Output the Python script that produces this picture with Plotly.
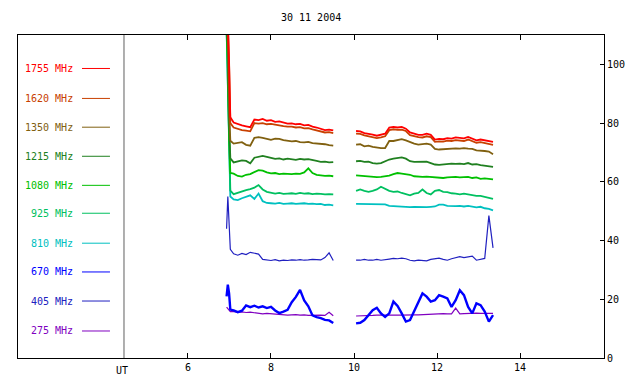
import plotly.graph_objects as go

# ---- data ----
T1 = [6.93, 6.96, 6.99, 7.02, 7.1, 7.2, 7.3, 7.4, 7.5, 7.6, 7.7, 7.8, 7.9, 8.0, 8.1, 8.2,
      8.3, 8.4, 8.5, 8.6, 8.7, 8.8, 8.9, 9.0, 9.1, 9.2, 9.3, 9.4, 9.5]
T2 = [10.05, 10.15, 10.25, 10.35, 10.45, 10.55, 10.65, 10.75, 10.85, 10.95, 11.05, 11.15,
      11.25, 11.35, 11.45, 11.55, 11.65, 11.75, 11.85, 11.95, 12.05, 12.15, 12.25, 12.35,
      12.45, 12.55, 12.65, 12.75, 12.85, 12.95, 13.05, 13.15, 13.25, 13.35]

freqs = ["1755 MHz", "1620 MHz", "1350 MHz", "1215 MHz", "1080 MHz",
         "925 MHz", "810 MHz", "670 MHz", "405 MHz", "275 MHz"]
colors = ["#ff0000", "#c84000", "#806010", "#208020", "#00c000",
          "#00c060", "#00c0c0", "#0000ff", "#2020c0", "#8000c0"]
legend_y = [98.6, 88.4, 78.6, 68.7, 58.8, 49.3, 39.1, 29.3, 19.4, 9.2]

s1755_a = [112, 115, 100, 82, 80.2, 79.6, 79.2, 78.9, 78.6, 81.2, 81.0, 81.4, 80.8, 81.0, 80.4, 80.6,
           80.1, 79.8, 79.9, 79.6, 79.7, 79.2, 79.4, 78.8, 78.5, 78.0, 77.6, 77.8, 77.5]
s1755_b = [77.3, 77.2, 76.6, 76.4, 76.1, 75.7, 76.0, 76.4, 78.5, 78.7, 78.5, 78.7, 78.1, 76.8, 76.4,
           76.0, 76.0, 76.4, 76.0, 74.4, 74.6, 74.5, 74.9, 74.7, 75.1, 74.9, 74.8, 75.3, 74.7, 74.1,
           74.4, 74.1, 73.9, 73.6]
s1620_a = [112, 114, 101, 80, 78.5, 78.0, 77.6, 77.4, 77.2, 80.0, 79.8, 80.0, 79.6, 79.7, 79.4, 79.3,
           79.0, 78.8, 78.8, 78.5, 78.6, 78.2, 78.3, 77.9, 77.6, 77.1, 76.8, 76.9, 76.6]
s1620_b = [76.4, 76.3, 75.8, 75.5, 75.3, 74.9, 75.1, 75.5, 77.6, 77.9, 77.7, 77.8, 77.3, 75.9, 75.6,
           75.2, 75.1, 75.5, 75.2, 73.6, 73.8, 73.7, 74.0, 73.9, 74.2, 74.0, 73.9, 74.4, 73.9, 73.3,
           73.5, 73.2, 73.0, 72.6]
s1350_a = [112, 110, 85, 74, 73.0, 73.2, 73.5, 72.6, 72.3, 75.0, 75.2, 75.0, 74.6, 74.3, 74.7, 74.6,
           74.2, 74.0, 73.8, 73.9, 73.5, 73.4, 73.6, 73.2, 73.1, 72.9, 72.8, 72.5, 72.3]
s1350_b = [72.7, 72.8, 72.1, 72.3, 71.9, 71.6, 71.5, 71.5, 73.9, 73.9, 74.1, 74.5, 74.1, 73.5, 73.0,
           72.7, 72.8, 73.0, 72.7, 71.2, 71.0, 71.1, 71.3, 71.2, 71.4, 71.3, 71.5, 71.3, 71.2, 70.7,
           70.7, 70.5, 70.3, 69.4]
s1215_a = [112, 105, 80, 68, 66.6, 67.0, 67.3, 67.1, 66.3, 68.2, 68.6, 68.8, 68.5, 68.2, 67.8, 68.0,
           67.6, 67.9, 67.7, 67.5, 67.8, 67.6, 67.7, 67.5, 67.1, 66.8, 66.9, 66.6, 66.7]
s1215_b = [67.0, 67.1, 66.8, 66.9, 66.4, 66.2, 66.4, 67.0, 67.6, 67.9, 68.0, 68.3, 67.9, 67.0, 66.8,
           66.8, 66.7, 66.9, 66.4, 65.9, 65.8, 66.0, 66.0, 66.2, 66.1, 66.2, 66.0, 66.4, 65.9, 66.0,
           65.7, 65.5, 65.3, 65.1]
s1080_a = [112, 100, 75, 63, 62.8, 62.0, 61.8, 62.4, 62.6, 63.4, 64.0, 63.8, 63.2, 62.9, 63.0, 62.6,
           62.8, 62.7, 62.6, 62.8, 62.7, 63.2, 64.6, 63.0, 62.4, 62.2, 62.0, 62.1, 61.9]
s1080_b = [62.2, 62.1, 61.9, 61.7, 61.8, 61.6, 61.7, 61.9, 62.1, 62.6, 63.0, 62.8, 62.6, 62.4, 61.9,
           61.7, 61.7, 61.8, 61.7, 61.7, 61.6, 61.3, 61.5, 61.6, 61.7, 61.5, 61.6, 61.7, 61.3, 61.5,
           61.0, 61.2, 61.0, 60.8]
s925_a = [112, 95, 70, 57, 55.8, 56.3, 56.8, 57.2, 57.5, 58.0, 58.9, 57.4, 56.6, 56.4, 56.0, 56.2,
          55.9, 56.0, 56.1, 55.9, 56.2, 56.0, 56.1, 55.8, 56.0, 55.9, 55.7, 55.8, 55.7]
s925_b = [56.9, 57.4, 56.9, 56.6, 56.9, 57.4, 58.3, 57.7, 56.9, 56.6, 56.7, 56.2, 55.8, 55.4, 56.0,
          56.2, 57.4, 56.2, 55.7, 56.9, 57.2, 56.6, 56.5, 56.1, 56.0, 55.7, 56.0, 55.7, 55.4, 55.2,
          55.2, 54.9, 54.5, 54.2]
s810_a = [112, 90, 65, 55, 54.0, 53.8, 54.4, 54.9, 55.4, 54.2, 56.0, 53.4, 52.8, 52.7, 52.6, 52.8,
          52.5, 52.6, 52.7, 52.5, 52.6, 52.7, 52.5, 52.6, 52.4, 52.5, 52.1, 52.2, 52.0]
s810_b = [52.5, 52.5, 52.4, 52.5, 52.4, 52.3, 52.4, 52.3, 51.8, 51.7, 51.6, 51.7, 51.5, 51.4, 51.5,
          51.4, 51.5, 51.4, 51.5, 51.6, 52.2, 52.2, 51.8, 51.7, 51.7, 51.8, 51.6, 51.8, 51.5, 51.3,
          51.5, 51.0, 50.8, 50.3]
s670_a = [21.0, 25.0, 22.0, 16.5, 16.2, 15.6, 16.1, 17.9, 17.3, 17.8, 17.2, 17.6, 17.0, 17.4, 16.2,
          15.3, 15.8, 16.4, 19.0, 20.8, 23.2, 19.6, 17.6, 14.5, 13.9, 13.6, 13.0, 12.8, 11.9]
s670_b = [11.8, 12.0, 12.9, 14.6, 16.3, 17.1, 15.2, 14.0, 15.2, 19.2, 17.7, 15.2, 12.4, 12.9, 15.8,
          19.2, 22.0, 20.9, 19.2, 19.7, 21.4, 20.9, 20.3, 17.4, 19.7, 23.1, 21.4, 17.4, 15.2, 18.6,
          18.0, 15.8, 12.4, 14.6]
s405_a = [44.0, 55.0, 46.0, 37.0, 35.5, 35.0, 35.6, 35.2, 36.0, 35.6, 35.4, 33.6, 33.4, 33.2, 33.5,
          33.1, 33.3, 33.2, 33.4, 33.3, 33.5, 33.3, 33.4, 33.6, 33.5, 33.4, 34.2, 35.8, 33.2]
s405_b = [33.3, 33.3, 33.6, 33.3, 33.3, 33.6, 33.3, 33.6, 33.7, 33.9, 33.8, 34.0, 33.8, 33.3, 33.1,
          33.3, 33.3, 33.1, 33.6, 33.9, 34.0, 33.6, 33.3, 33.8, 34.2, 34.5, 34.2, 34.5, 34.7, 33.3,
          33.6, 33.9, 48.5, 37.5]
s275_a = [17.3, 16.8, 16.2, 15.8, 15.8, 15.6, 15.7, 15.5, 15.6, 15.4, 15.3, 15.0, 15.2, 15.1, 14.9,
          14.7, 14.8, 14.6, 14.7, 14.8, 14.6, 14.7, 14.5, 14.6, 14.5, 14.6, 14.5, 15.6, 14.4]
s275_b = [14.3, 14.3, 14.4, 14.4, 14.5, 14.6, 14.5, 14.6, 14.6, 14.7, 14.6, 14.6, 14.7, 14.6, 14.7,
          14.7, 14.8, 14.7, 14.8, 14.9, 15.0, 15.1, 15.0, 15.0, 17.0, 15.0, 15.1, 15.2, 15.1, 15.3,
          15.2, 15.2, 15.3, 15.2]

series = [
    (s1755_a, s1755_b), (s1620_a, s1620_b), (s1350_a, s1350_b), (s1215_a, s1215_b),
    (s1080_a, s1080_b), (s925_a, s925_b), (s810_a, s810_b), (s670_a, s670_b),
    (s405_a, s405_b), (s275_a, s275_b),
]

UT_X = 4.458
X_RANGE = [1.904, 16.024]
FONT = "DejaVu Sans Mono"

fig = go.Figure()
xs = T1 + [None] + T2
for i in reversed(range(len(freqs))):
    a, b = series[i]
    if freqs[i] == "670 MHz":
        w = 2.4
    elif freqs[i] in ("405 MHz", "275 MHz"):
        w = 1.2
    else:
        w = 1.8
    fig.add_trace(go.Scatter(
        x=xs, y=a + [None] + b, mode="lines", name=freqs[i],
        line=dict(color=colors[i], width=w),
        connectgaps=False, showlegend=False, hoverinfo="skip",
    ))

# legend drawn as text + line in the left panel
for name, col, yv in zip(freqs, colors, legend_y):
    fig.add_annotation(x=3.277, y=yv, xref="x", yref="y", text=name, showarrow=False,
                       xanchor="right", yanchor="middle", font=dict(color=col, size=10, family=FONT))
    fig.add_shape(type="line", x0=3.446, x1=4.12, y0=yv, y1=yv, xref="x", yref="y",
                  line=dict(color=col, width=1))

# separator line and UT label
fig.add_shape(type="line", x0=UT_X, x1=UT_X, y0=0, y1=1, xref="x", yref="paper",
              line=dict(color="#606060", width=1))
fig.add_annotation(x=UT_X - 0.05, y=-0.04, xref="x", yref="paper", text="UT", showarrow=False,
                   xanchor="center", yanchor="middle", font=dict(color="black", size=10, family=FONT))
fig.add_annotation(x=0.5, y=1.053, xref="paper", yref="paper", text="30 11 2004", showarrow=False,
                   xanchor="center", yanchor="middle", font=dict(color="black", size=10, family=FONT))

# page body has an 8px margin, so the figure is sized to fit the 640x384 window
fig.update_layout(
    width=632, height=376, margin=dict(l=10, r=36, t=27, b=26),
    paper_bgcolor="white", plot_bgcolor="white",
    font=dict(family=FONT, size=10, color="black"),
    xaxis=dict(range=X_RANGE, tickvals=[6, 8, 10, 12, 14], ticktext=["6", "8", "10", "12", "14"],
               ticks="inside", ticklen=5, tickcolor="black", showline=True, linecolor="black",
               linewidth=1, mirror="ticks", showgrid=False, zeroline=False, fixedrange=True),
    yaxis=dict(range=[0, 110], side="right", tickvals=[0, 20, 40, 60, 80, 100],
               ticks="inside", ticklen=4, tickcolor="black", showline=True, linecolor="black",
               linewidth=1, mirror=True, showgrid=False, zeroline=False, fixedrange=True),
)

fig.write_html("out.html", config={"displayModeBar": False})
